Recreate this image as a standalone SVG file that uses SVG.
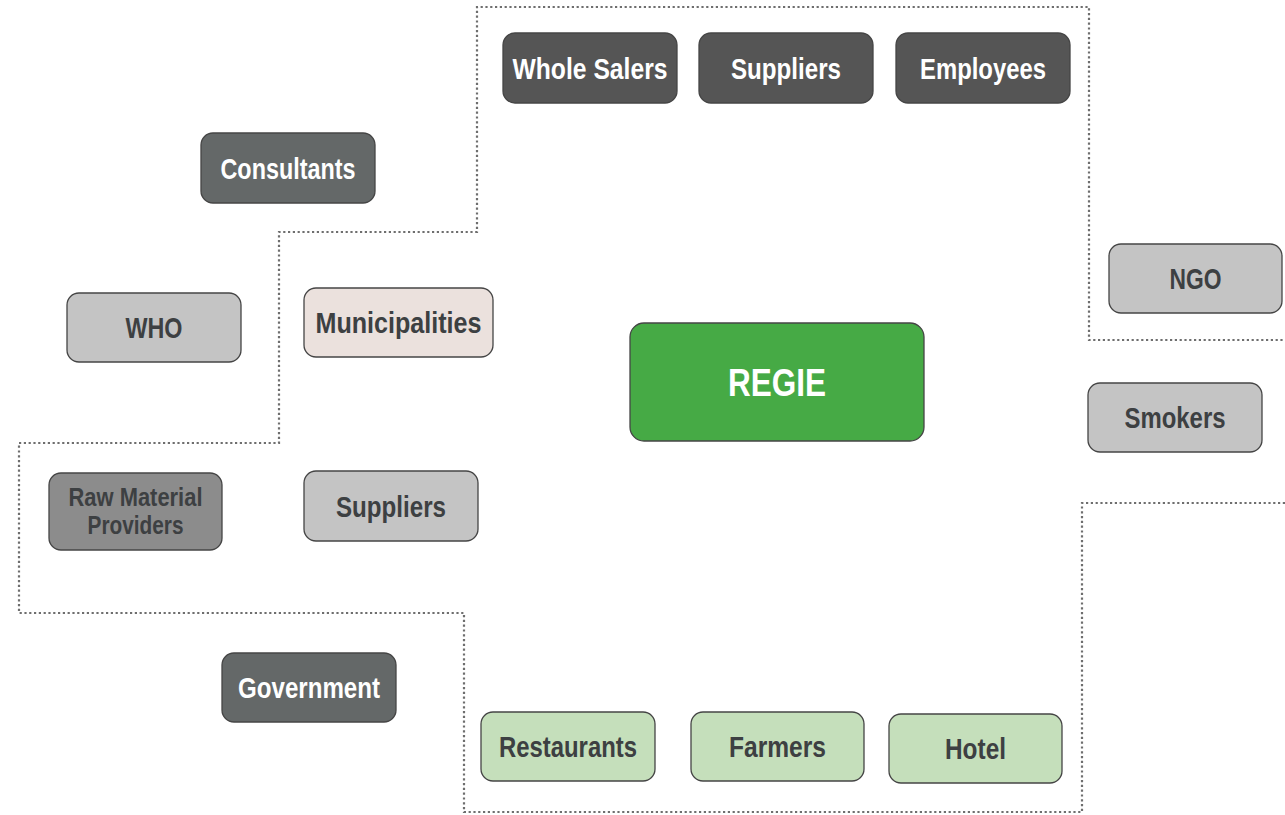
<svg xmlns="http://www.w3.org/2000/svg" width="1285" height="815" viewBox="0 0 1285 815">
<style>
.b{stroke:#454545;stroke-width:1.3}
.dark{fill:#555555}
.slate{fill:#646868}
.lg{fill:#c4c4c4}
.mg{fill:#8c8c8c}
.pink{fill:#ebe1dd}
.green{fill:#c5dfbb}
.regie{fill:#46aa45}
text{font-family:"Liberation Sans Narrow","Liberation Sans",Arial,sans-serif;font-weight:bold;font-size:30px;text-anchor:middle}
.w{fill:#ffffff}
.d{fill:#3d4042}
.dots{fill:none;stroke:#6e6e6e;stroke-width:2.2;stroke-dasharray:2.2 2.6}
</style>
<rect width="1285" height="815" fill="#ffffff"/>
<g id="connectors">
<path class="dots" d="M1285 503 H1082 V812 H464 V613 H19 V443 H279 V232 H477 V7 H1089 V340 H1285"/>
</g>
<g id="wholesalers"><rect class="b dark" x="503" y="33" width="174" height="70" rx="12"/><text class="w" x="590" y="79" textLength="155" lengthAdjust="spacingAndGlyphs">Whole Salers</text></g>
<g id="suppliers-top"><rect class="b dark" x="699" y="33" width="174" height="70" rx="12"/><text class="w" x="786" y="79" textLength="110" lengthAdjust="spacingAndGlyphs">Suppliers</text></g>
<g id="employees"><rect class="b dark" x="896" y="33" width="174" height="70" rx="12"/><text class="w" x="983" y="79" textLength="126" lengthAdjust="spacingAndGlyphs">Employees</text></g>
<g id="consultants"><rect class="b slate" x="201" y="133" width="174" height="70" rx="12"/><text class="w" x="288" y="179" textLength="135" lengthAdjust="spacingAndGlyphs">Consultants</text></g>
<g id="who"><rect class="b lg" x="67" y="293" width="174" height="69" rx="12"/><text class="d" x="154" y="338" textLength="57" lengthAdjust="spacingAndGlyphs">WHO</text></g>
<g id="municipalities"><rect class="b pink" x="304" y="288" width="189" height="69" rx="12"/><text class="d" x="398.5" y="333" textLength="166" lengthAdjust="spacingAndGlyphs">Municipalities</text></g>
<g id="regie"><rect class="b regie" x="630" y="323" width="294" height="118" rx="14"/><text class="w" x="777" y="396" style="font-size:39px" textLength="98" lengthAdjust="spacingAndGlyphs">REGIE</text></g>
<g id="ngo"><rect class="b lg" x="1109" y="244" width="173" height="69" rx="12"/><text class="d" x="1195.5" y="289" textLength="52" lengthAdjust="spacingAndGlyphs">NGO</text></g>
<g id="smokers"><rect class="b lg" x="1088" y="383" width="174" height="69" rx="12"/><text class="d" x="1175" y="428" textLength="101" lengthAdjust="spacingAndGlyphs">Smokers</text></g>
<g id="raw-material"><rect class="b mg" x="49" y="473" width="173" height="77" rx="12"/><text class="d" x="135.5" y="506" style="font-size:25px" textLength="134" lengthAdjust="spacingAndGlyphs">Raw Material</text><text class="d" x="135.5" y="534" style="font-size:25px" textLength="96" lengthAdjust="spacingAndGlyphs">Providers</text></g>
<g id="suppliers-mid"><rect class="b lg" x="304" y="471" width="174" height="70" rx="12"/><text class="d" x="391" y="517" textLength="110" lengthAdjust="spacingAndGlyphs">Suppliers</text></g>
<g id="government"><rect class="b slate" x="222" y="653" width="174" height="69" rx="12"/><text class="w" x="309" y="698" textLength="142" lengthAdjust="spacingAndGlyphs">Government</text></g>
<g id="restaurants"><rect class="b green" x="481" y="712" width="174" height="69" rx="12"/><text class="d" x="568" y="757" textLength="138" lengthAdjust="spacingAndGlyphs">Restaurants</text></g>
<g id="farmers"><rect class="b green" x="691" y="712" width="173" height="69" rx="12"/><text class="d" x="777.5" y="757" textLength="97" lengthAdjust="spacingAndGlyphs">Farmers</text></g>
<g id="hotel"><rect class="b green" x="889" y="714" width="173" height="69" rx="12"/><text class="d" x="975.5" y="759" textLength="61" lengthAdjust="spacingAndGlyphs">Hotel</text></g>
</svg>
